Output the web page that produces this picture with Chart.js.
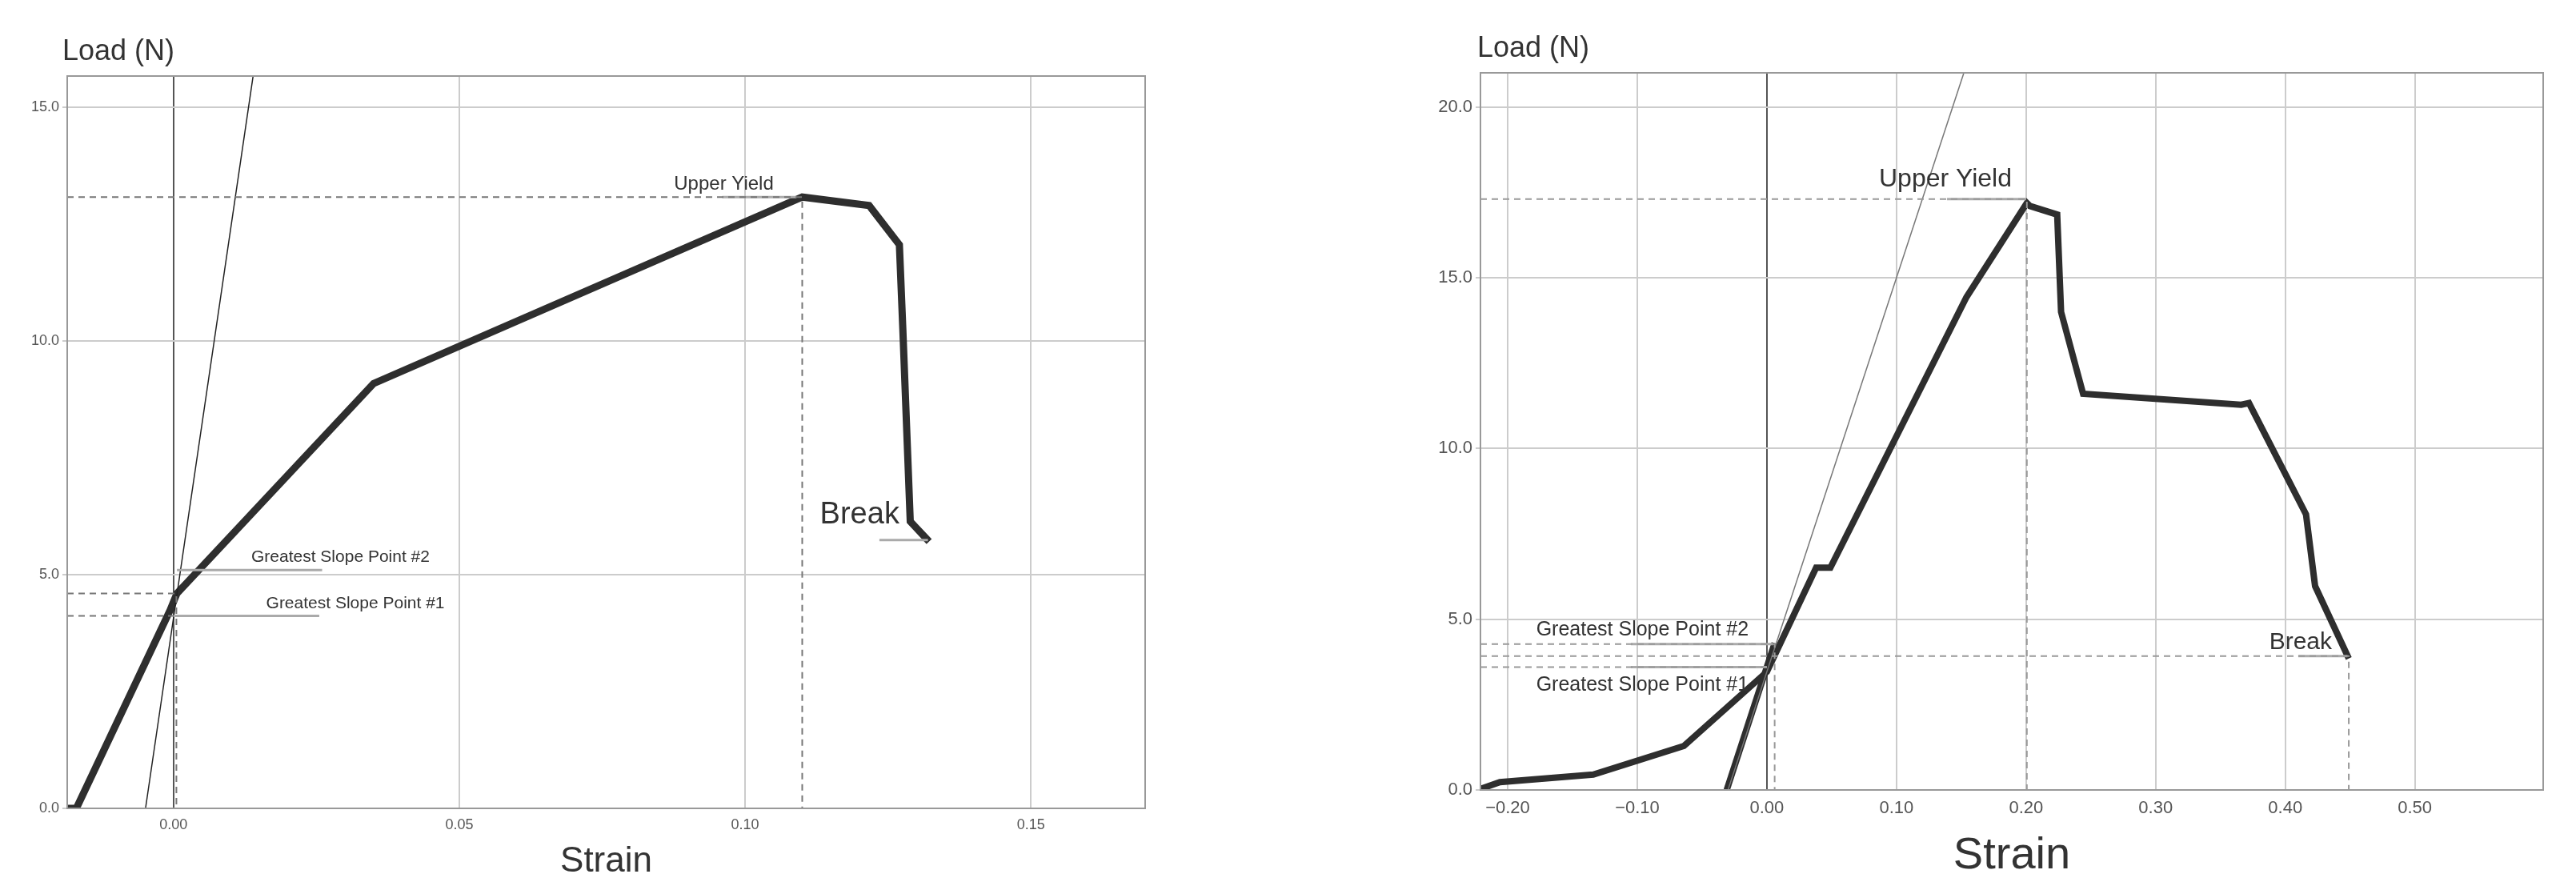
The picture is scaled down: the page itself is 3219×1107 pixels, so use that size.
<!DOCTYPE html>
<html>
<head>
<meta charset="utf-8">
<script src="https://cdn.jsdelivr.net/npm/chart.js@4.4.1/dist/chart.umd.min.js"></script>
<style>
  body { margin: 0; background: #fff; width: 3219px; height: 1107px; position: relative; overflow: hidden; }
  .box { position: absolute; top: 0; height: 1107px; }
</style>
</head>
<body>
<div class="box" style="left:0;width:1460px"><canvas id="left"></canvas></div>
<div class="box" style="left:1760px;width:1459px"><canvas id="right"></canvas></div>
<script>
// ---- left test ----
const leftStrain = [-0.0186, -0.017, -0.0006, 0.0006, 0.035, 0.110, 0.1217, 0.127, 0.1276, 0.1289, 0.1322];
const leftLoad = [0, 0, 4.24, 4.6, 9.09, 13.08, 12.9, 12.06, 10.26, 6.14, 5.71];
const leftSlopeStrain = [-0.0049, 0.0142];
const leftSlopeLoad = [0, 15.9];
const leftYield = [0.110, 13.08];
const leftGsp1 = [0.0, 4.12];
const leftGsp2 = [0.0005, 4.6];
const leftBreak = [0.1322, 5.74];

// ---- right test ----
const rightStrain = [-0.221, -0.206, -0.134, -0.064, 0, 0.038, 0.049, 0.154, 0.2006, 0.203, 0.224, 0.227, 0.244, 0.366, 0.372, 0.416, 0.423, 0.449];
const rightLoad = [0.03, 0.23, 0.45, 1.29, 3.46, 6.51, 6.51, 14.43, 17.19, 17.1, 16.85, 14.0, 11.6, 11.28, 11.33, 8.07, 5.97, 3.85];
const rightLoad2Strain = [-0.031, 0.006];
const rightLoad2 = [0, 4.3];
const rightSlopeStrain = [-0.030, 0.152];
const rightSlopeLoad = [0, 21];
const rightYield = [0.2006, 17.3];
const rightGsp1 = [0.0, 3.6];
const rightGsp2 = [0.006, 4.27];
const rightBreak = [0.449, 3.92];

const leftXTicks = [0, 0.05, 0.10, 0.15];
const leftYTicks = [0, 5, 10, 15];
const rightXTicks = [-0.2, -0.1, 0, 0.1, 0.2, 0.3, 0.4, 0.5];
const rightYTicks = [0, 5, 10, 15, 20];

const pts = (xs, ys) => xs.map((x, i) => ({ x, y: ys[i] }));
const fmt = (v, d) => (v < 0 ? "\u2212" : "") + Math.abs(v).toFixed(d);

function dashed(data, color) {
  return { data, showLine: true, pointRadius: 0, borderColor: color || "#777", borderWidth: 2, borderDash: [8, 6] };
}
function gray(data) {
  return { data, showLine: true, pointRadius: 0, borderColor: "#aaa", borderWidth: 3 };
}

// annotation texts and plot frame
const labelsPlugin = {
  id: "labels",
  afterDatasetsDraw(chart, args, opts) {
    const { ctx, chartArea: a, scales: { x, y } } = chart;
    ctx.save();
    ctx.strokeStyle = "#999";
    ctx.lineWidth = 2;
    ctx.strokeRect(a.left, a.top, a.right - a.left, a.bottom - a.top);
    ctx.fillStyle = "#333";
    opts.items.forEach(t => {
      ctx.font = t.size + "px 'Liberation Sans', Arial, sans-serif";
      ctx.textAlign = t.align;
      ctx.textBaseline = t.base;
      ctx.fillText(t.text, x.getPixelForValue(t.x), y.getPixelForValue(t.y));
    });
    ctx.font = opts.titleSize + "px 'Liberation Sans', Arial, sans-serif";
    ctx.textAlign = "left";
    ctx.textBaseline = "bottom";
    ctx.fillText("Load (N)", a.left - opts.titleShift, a.top - 12);
    ctx.restore();
  }
};

function makeChart(id, cfg) {
  return new Chart(document.getElementById(id), {
    type: "scatter",
    data: { datasets: cfg.datasets },
    plugins: [labelsPlugin],
    options: {
      responsive: true,
      maintainAspectRatio: false,
      animation: false,
      layout: { padding: { top: cfg.top, right: cfg.right, left: 0, bottom: 0 } },
      plugins: { legend: { display: false }, tooltip: { enabled: false }, labels: cfg.labels },
      scales: {
        x: {
          type: "linear", min: cfg.xmin, max: cfg.xmax,
          afterFit: s => { s.height = cfg.xh; },
          afterBuildTicks: s => { s.ticks = cfg.xticks.map(v => ({ value: v })); },
          grid: { color: c => c.tick.value === 0 ? "#555" : "#ccc", lineWidth: 2, tickLength: 0 },
          border: { display: false },
          ticks: { color: "#555", font: { size: cfg.tickSize }, padding: 10, callback: v => fmt(v, 2) },
          title: { display: true, text: "Strain", color: "#333", font: { size: cfg.strainSize }, padding: { top: 0 } }
        },
        y: {
          type: "linear", min: 0, max: cfg.ymax,
          afterFit: s => { s.width = cfg.yw; },
          afterBuildTicks: s => { s.ticks = cfg.yticks.map(v => ({ value: v })); },
          ticks: { color: "#555", font: { size: cfg.tickSize }, padding: 4, callback: v => fmt(v, 1) },
          grid: { color: "#ccc", lineWidth: 2, tickLength: 6 },
          border: { display: false }
        }
      }
    }
  });
}

makeChart("left", {
  xmin: -0.0186, xmax: 0.170, ymax: 15.67, xticks: leftXTicks, yticks: leftYTicks,
  top: 95, right: 29, xh: 97, yw: 84, tickSize: 18, strainSize: 44,
  datasets: [
    dashed([{ x: -0.0186, y: leftYield[1] }, { x: leftYield[0], y: leftYield[1] }, { x: leftYield[0], y: 0 }]),
    dashed([{ x: -0.0186, y: leftGsp2[1] }, { x: leftGsp2[0], y: leftGsp2[1] }, { x: leftGsp2[0], y: 0 }]),
    dashed([{ x: -0.0186, y: leftGsp1[1] }, { x: leftGsp1[0], y: leftGsp1[1] }]),
    gray([{ x: 0.0006, y: 5.1 }, { x: 0.026, y: 5.1 }]),
    gray([{ x: 0.0, y: 4.12 }, { x: 0.0255, y: 4.12 }]),
    gray([{ x: 0.096, y: leftYield[1] }, { x: 0.109, y: leftYield[1] }]),
    gray([{ x: 0.1235, y: leftBreak[1] }, { x: 0.132, y: leftBreak[1] }]),
    { data: pts(leftSlopeStrain, leftSlopeLoad), showLine: true, pointRadius: 0, borderColor: "#222", borderWidth: 1.5 },
    { data: pts(leftStrain, leftLoad), showLine: true, pointRadius: 0, borderColor: "#2e2e2e", borderWidth: 9, borderJoinStyle: "miter" }
  ],
  labels: {
    titleSize: 36, titleShift: 6,
    items: [
      { text: "Upper Yield", x: 0.105, y: 13.15, align: "right", base: "bottom", size: 24 },
      { text: "Break", x: 0.127, y: 5.95, align: "right", base: "bottom", size: 38 },
      { text: "Greatest Slope Point #2", x: 0.0136, y: 5.2, align: "left", base: "bottom", size: 21 },
      { text: "Greatest Slope Point #1", x: 0.0162, y: 4.2, align: "left", base: "bottom", size: 21 }
    ]
  }
});

makeChart("right", {
  xmin: -0.221, xmax: 0.599, ymax: 21.0, xticks: rightXTicks, yticks: rightYTicks,
  top: 91, right: 41, xh: 120, yw: 90, tickSize: 22, strainSize: 56,
  datasets: [
    dashed([{ x: -0.221, y: rightYield[1] }, { x: rightYield[0], y: rightYield[1] }, { x: rightYield[0], y: 0 }], "#999"),
    dashed([{ x: -0.221, y: rightGsp2[1] }, { x: rightGsp2[0], y: rightGsp2[1] }, { x: rightGsp2[0], y: 0 }], "#999"),
    dashed([{ x: -0.221, y: rightGsp1[1] }, { x: rightGsp1[0], y: rightGsp1[1] }], "#999"),
    dashed([{ x: -0.221, y: rightBreak[1] }, { x: rightBreak[0], y: rightBreak[1] }, { x: rightBreak[0], y: 0 }], "#999"),
    gray([{ x: -0.105, y: 4.27 }, { x: 0.005, y: 4.27 }]),
    gray([{ x: -0.105, y: 3.6 }, { x: 0.0, y: 3.6 }]),
    gray([{ x: 0.139, y: 17.3 }, { x: 0.2, y: 17.3 }]),
    gray([{ x: 0.41, y: 3.92 }, { x: 0.448, y: 3.92 }]),
    { data: pts(rightSlopeStrain, rightSlopeLoad), showLine: true, pointRadius: 0, borderColor: "#777", borderWidth: 1.5 },
    { data: pts(rightLoad2Strain, rightLoad2), showLine: true, pointRadius: 0, borderColor: "#2e2e2e", borderWidth: 8 },
    { data: pts(rightStrain, rightLoad), showLine: true, pointRadius: 0, borderColor: "#2e2e2e", borderWidth: 8, borderJoinStyle: "miter" }
  ],
  labels: {
    titleSize: 36, titleShift: 4,
    items: [
      { text: "Upper Yield", x: 0.189, y: 17.5, align: "right", base: "bottom", size: 32 },
      { text: "Break", x: 0.436, y: 3.97, align: "right", base: "bottom", size: 30 },
      { text: "Greatest Slope Point #2", x: -0.178, y: 4.4, align: "left", base: "bottom", size: 25 },
      { text: "Greatest Slope Point #1", x: -0.178, y: 3.35, align: "left", base: "top", size: 25 }
    ]
  }
});
</script>
</body>
</html>
